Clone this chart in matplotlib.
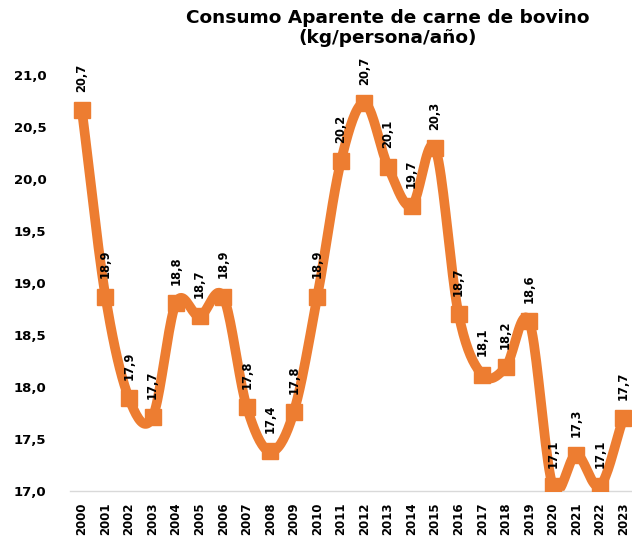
import matplotlib.pyplot as plt
import numpy as np

plt.rcParams['font.family'] = ['DejaVu Sans']

years = list(range(2000, 2024))
consumo = [20.66, 18.87, 17.89, 17.71, 18.81, 18.68, 18.87, 17.81, 17.38, 17.76,
           18.87, 20.17, 20.73, 20.12, 19.74, 20.30, 18.70, 18.12, 18.19, 18.63,
           17.05, 17.35, 17.05, 17.70]
etiquetas = ['20,7', '18,9', '17,9', '17,7', '18,8', '18,7', '18,9', '17,8', '17,4', '17,8',
             '18,9', '20,2', '20,7', '20,1', '19,7', '20,3', '18,7', '18,1', '18,2', '18,6',
             '17,1', '17,3', '17,1', '17,7']
color = '#ED7D31'


def suavizar(x, y, n=20):
    # curva tipo Catmull-Rom, como la linea suavizada de Excel
    x = np.asarray(x, float)
    y = np.asarray(y, float)
    px = np.concatenate([[2 * x[0] - x[1]], x, [2 * x[-1] - x[-2]]])
    py = np.concatenate([[2 * y[0] - y[1]], y, [2 * y[-1] - y[-2]]])
    xs, ys = [], []
    t = np.linspace(0, 1, n, endpoint=False)
    for i in range(1, len(px) - 2):
        for p, out in ((px, xs), (py, ys)):
            p0, p1, p2, p3 = p[i - 1], p[i], p[i + 1], p[i + 2]
            out.extend(0.5 * ((2 * p1) + (-p0 + p2) * t +
                              (2 * p0 - 5 * p1 + 4 * p2 - p3) * t ** 2 +
                              (-p0 + 3 * p1 - 3 * p2 + p3) * t ** 3))
    xs.append(x[-1])
    ys.append(y[-1])
    return np.array(xs), np.array(ys)


fig = plt.figure(figsize=(6.32, 5.37), dpi=100)
ax = fig.add_axes([0.111, 0.0857, 0.894, 0.7746])

sx, sy = suavizar(years, consumo)
ax.plot(sx, sy, color=color, linewidth=7, solid_capstyle='butt', zorder=2)
ax.plot(years, consumo, linestyle='none', marker='s', markersize=12,
        color=color, zorder=3)

for x, y, lab in zip(years, consumo, etiquetas):
    ax.annotate(lab, (x, y), xytext=(0, 13), textcoords='offset points',
                rotation=90, ha='center', va='bottom', fontsize=8.3,
                fontweight='bold', annotation_clip=False, zorder=4)

ax.set_xlim(1999.5, 2023.5)
ax.set_ylim(17.0, 21.0)
ax.set_yticks(np.arange(17.0, 21.01, 0.5))
ax.set_yticklabels([f'{v:.1f}'.replace('.', ',') for v in np.arange(17.0, 21.01, 0.5)],
                   fontsize=9.5, fontweight='bold')
ax.set_xticks(years)
ax.set_xticklabels([str(a) for a in years], rotation=90, fontsize=8.5, fontweight='bold')
ax.tick_params(length=0)
ax.tick_params(axis='x', pad=8)
ax.tick_params(axis='y', pad=17)
for s in ['top', 'right', 'left']:
    ax.spines[s].set_visible(False)
ax.spines['bottom'].set_color('#D9D9D9')
ax.spines['bottom'].set_linewidth(1)

fig.text(0.613, 0.983, 'Consumo Aparente de carne de bovino\n(kg/persona/año)',
         ha='center', va='top', fontsize=13.3, fontweight='bold', linespacing=1.15)

fig.savefig('out.png', dpi=100)
